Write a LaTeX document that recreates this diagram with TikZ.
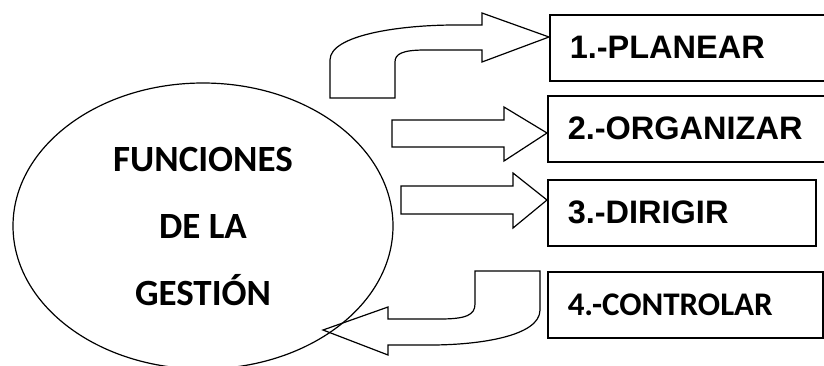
\documentclass[tikz,border=0pt]{standalone}
\usepackage{fontspec}
\usetikzlibrary{shapes.geometric}
\newfontfamily\arialfont{Liberation Sans}
\newfontfamily\calibfont{Carlito}
\begin{document}
\begin{tikzpicture}[x=1pt,y=-1pt,
  fbox/.style={draw, line width=1.5pt, rectangle, anchor=north west, align=left,
    minimum height=66pt, inner xsep=20pt, inner ysep=0pt},
  boxfont/.style={font=\arialfont\bfseries\fontsize{32.5}{36}\selectfont},
  blockarrow/.style={draw, line width=1.2pt, line join=miter}]
\useasboundingbox (0,0) rectangle (824,365);
\clip (0,0) rectangle (824,365);

% central ellipse
\node[draw, ellipse, line width=1.2pt, minimum width=380pt, minimum height=286pt,
  align=center, inner sep=0pt,
  font=\calibfont\bfseries\fontsize{37}{67}\selectfont] (func) at (203,226)
  {FUNCIONES\\DE LA\\GESTIÓN};

% the four functions
\node[fbox, boxfont, text width=240pt] (b1) at (549,14) {1.-PLANEAR};
\node[fbox, boxfont, text width=242pt] (b2) at (547,95) {2.-ORGANIZAR};
\node[fbox, boxfont, text width=228pt] (b3) at (547,179) {3.-DIRIGIR};
\node[fbox, text width=235pt, font=\calibfont\bfseries\fontsize{33}{36}\selectfont]
  (b4) at (547,271) {4.-CONTROLAR};

% bent arrow towards PLANEAR
\draw[blockarrow] (330,98) -- (330,60) .. controls (330,35) and (400,25) .. (455,25)
  -- (482,25) -- (482,13) -- (b1.west |- 0,37) -- (482,62) -- (482,50) -- (425,50)
  .. controls (402,50) and (395,54) .. (395,62) -- (395,98) -- cycle;

% straight arrows towards ORGANIZAR and DIRIGIR
\draw[blockarrow] (392,120) -- (504,120) -- (504,107) -- (b2.west |- 0,133)
  -- (504,161) -- (504,147) -- (392,147) -- cycle;
\draw[blockarrow] (401,186) -- (513,186) -- (513,173) -- (b3.west |- 0,200)
  -- (513,228) -- (513,214) -- (401,214) -- cycle;

% bent arrow from CONTROLAR back to the ellipse
\coordinate (tip4) at (323,330);
\draw[blockarrow] (540,271) -- (540,310) .. controls (540,336) and (480,345) .. (430,345)
  -- (388,345) -- (388,355) -- (tip4) -- (388,307) -- (388,319) -- (440,319)
  .. controls (466,319) and (475,315) .. (475,304) -- (475,271) -- cycle;
\end{tikzpicture}
\end{document}
